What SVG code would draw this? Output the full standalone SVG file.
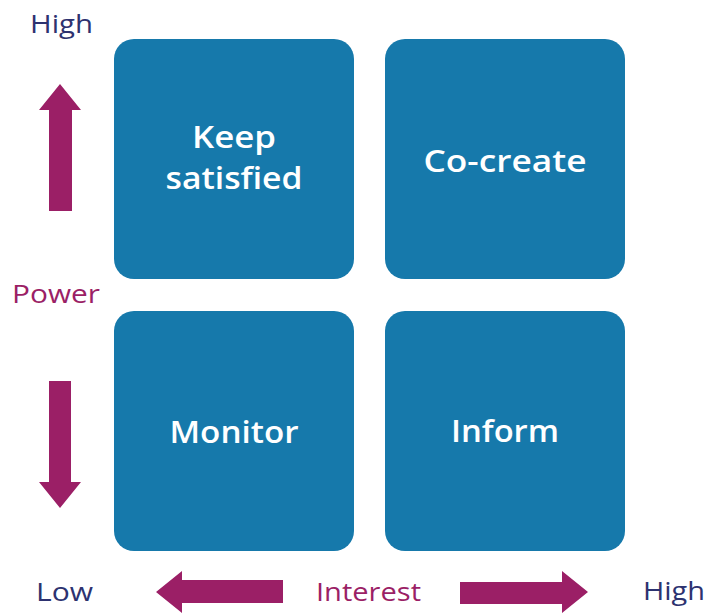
<svg xmlns="http://www.w3.org/2000/svg" width="709" height="614" viewBox="0 0 709 614">
<style>
.box{fill:#1679AB}
.lbl{font-family:"Open Sans","Liberation Sans",sans-serif;font-weight:600;font-size:30px;fill:#fff;text-anchor:middle}
.ax{font-family:"Open Sans","Liberation Sans",sans-serif;font-weight:400;font-size:25px}
.navy{fill:#2D3270}
.mag{fill:#9B1F66}
.arr{fill:#9B1F66}
</style>
<rect width="709" height="614" fill="#fff"/>
<g id="keep-satisfied">
<rect class="box" x="114" y="39" width="240" height="240" rx="20"/>
<text class="lbl" x="234" y="148" textLength="84" lengthAdjust="spacingAndGlyphs">Keep</text>
<text class="lbl" x="234" y="189" textLength="137" lengthAdjust="spacingAndGlyphs">satisfied</text>
</g>
<g id="co-create">
<rect class="box" x="385" y="39" width="240" height="240" rx="20"/>
<text class="lbl" x="505" y="172" textLength="163" lengthAdjust="spacingAndGlyphs">Co-create</text>
</g>
<g id="monitor">
<rect class="box" x="114" y="311" width="240" height="240" rx="20"/>
<text class="lbl" x="234" y="443" textLength="129" lengthAdjust="spacingAndGlyphs">Monitor</text>
</g>
<g id="inform">
<rect class="box" x="385" y="311" width="240" height="240" rx="20"/>
<text class="lbl" x="505" y="442" textLength="108" lengthAdjust="spacingAndGlyphs">Inform</text>
</g>
<g id="connectors">
<polygon class="arr" points="60,84 81,110 72,110 72,211 49,211 49,110 39,110"/>
<polygon class="arr" points="49,381 71,381 71,482 81,482 60,508 39,482 49,482"/>
<polygon class="arr" points="156,592 182,571 182,580 283,580 283,603 182,603 182,613"/>
<polygon class="arr" points="588,592 562,571 562,582 460,582 460,604 562,604 562,613"/>
</g>
<g id="labels">
<text class="ax navy" x="30" y="33" textLength="63" lengthAdjust="spacingAndGlyphs">High</text>
<text class="ax mag" x="12" y="303" textLength="88" lengthAdjust="spacingAndGlyphs">Power</text>
<text class="ax navy" x="36" y="601" textLength="57" lengthAdjust="spacingAndGlyphs">Low</text>
<text class="ax mag" x="316" y="601" textLength="105" lengthAdjust="spacingAndGlyphs">Interest</text>
<text class="ax navy" x="643" y="600" textLength="62" lengthAdjust="spacingAndGlyphs">High</text>
</g>
</svg>
